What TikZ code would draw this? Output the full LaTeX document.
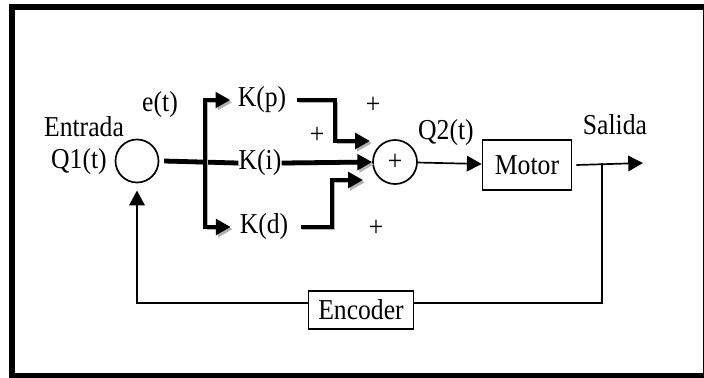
\documentclass[tikz,border=0pt]{standalone}
\usepackage{fontspec}
\setmainfont{Liberation Serif}[FakeStretch=0.89]
\usetikzlibrary{arrows.meta}
\tikzset{
    grueso/.style={line width=3.4pt, preaction={draw=black!30, transform canvas={shift={(1.4pt,-1.6pt)}}}},
    fino/.style={line width=1.2pt},
    flecha/.style={-{Triangle[length=10.5pt,width=11pt]}},
    testo/.style={font=\fontsize{20.5}{24}\selectfont, inner sep=0pt},
    cerchio/.style={draw, circle, fino, inner sep=0pt, font=\fontsize{20.5}{24}\selectfont},
    blocco/.style={draw, fino, font=\fontsize{20.5}{24}\selectfont}
}
\begin{document}
\begin{tikzpicture}[x=0.025cm,y=-0.025cm]
    % Cornice esterna
    \useasboundingbox (0,0) rectangle (704,377);
    \draw[line width=3.6pt] (12,7) rectangle (706,376);

    % Sommatori
    \node[cerchio, minimum size=1.075cm] (err) at (137,161) {};
    \node[cerchio, minimum size=1.1cm] (suma) at (395,162) {+};

    % Guadagni del controllore
    \node[testo] (kp) at (262,100) {K(p)};
    \node[testo] (ki) at (260,163) {K(i)};
    \node[testo] (kd) at (264,227) {K(d)};

    % Blocchi
    \node[blocco, minimum width=2.225cm, minimum height=1.25cm] (motor) at (527,165) {Motor};
    \node[blocco, minimum width=2.625cm, minimum height=0.95cm] (encoder) at (361,310) {Encoder};

    % Etichette
    \node[testo] (entrada) at (84,127) {Entrada};
    \node[testo] (q1) at (79,162) {Q1(t)};
    \node[testo] (et) at (160,105) {e(t)};
    \node[testo] (q2) at (446,133) {Q2(t)};
    \node[testo] (salida) at (615,125) {Salida};
    \node[testo] (piu1) at (373,105) {+};
    \node[testo] (piu2) at (317,135) {+};
    \node[testo] (piu3) at (376,228) {+};

    % Punti liberi
    \coordinate (ramo) at (205,162);
    \coordinate (inp) at (370,141);
    \coordinate (ind) at (363,180);
    \coordinate (presa) at (602,163);
    \coordinate (uscita) at (643,163);

    % Rami spessi
    \draw[grueso] ([xshift=0.12cm]err.east) -- (ki.west);
    \draw[grueso, flecha] (ramo) |- ([xshift=-0.18cm]kp.west);
    \draw[grueso, flecha] (ramo) |- ([xshift=-0.22cm]kd.west);
    \draw[grueso, flecha] ([xshift=0.27cm]kp.east) -| (335,141) -- (inp);
    \draw[grueso, flecha] (ki.east) -- (suma.west);
    \draw[grueso, flecha] ([xshift=0.3cm]kd.east) -| (332,180) -- (ind);

    % Linee sottili
    \draw[fino, flecha] (suma) -- (motor);
    \draw[fino, flecha] ([xshift=0.1cm]motor.east) -- (uscita);
    \draw[fino] (presa) |- ([yshift=0.175cm]encoder.east);
    \draw[fino, flecha] ([yshift=0.175cm]encoder.west) -| ([yshift=-0.18cm]err.south);
\end{tikzpicture}
\end{document}
